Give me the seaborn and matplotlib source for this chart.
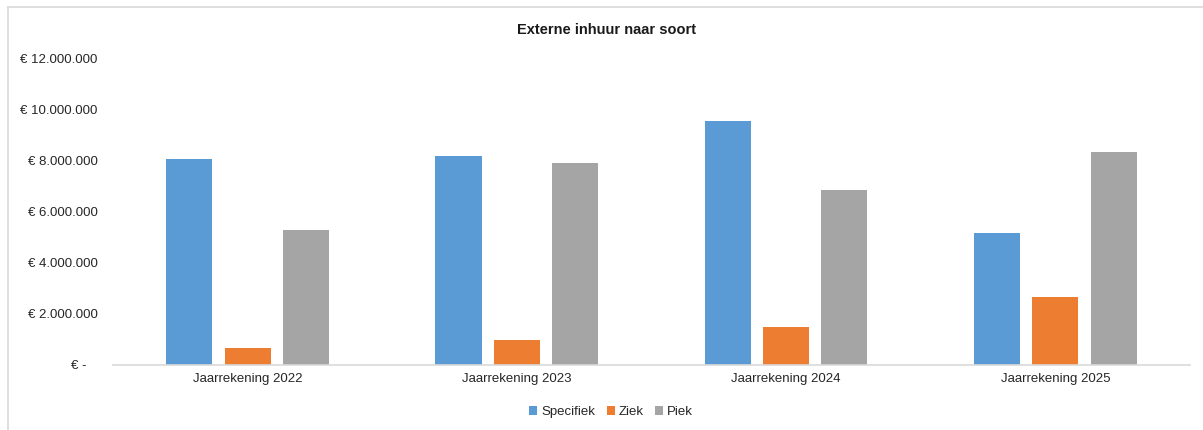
import pandas as pd
import numpy as np
import matplotlib
matplotlib.use('Agg')
import matplotlib.pyplot as plt
import matplotlib.ticker as mticker
from matplotlib.patches import Patch
from matplotlib.lines import Line2D
import seaborn as sns

# values (euro)
jaren = ['Jaarrekening 2022', 'Jaarrekening 2023', 'Jaarrekening 2024', 'Jaarrekening 2025']
soorten = ['Specifiek', 'Ziek', 'Piek']
specifiek = [8070000, 8200000, 9570000, 5170000]
ziek = [650000, 970000, 1500000, 2660000]
piek = [5290000, 7930000, 6870000, 8360000]
kleuren = ['#5B9BD5', '#ED7D31', '#A5A5A5']
yticks = [0, 2000000, 4000000, 6000000, 8000000, 10000000, 12000000]

data = pd.DataFrame({
    'Jaar': jaren * 3,
    'Soort': [s for s in soorten for _ in jaren],
    'Bedrag': specifiek + ziek + piek,
})

sns.set_style('white')
plt.rcParams['font.family'] = ['Liberation Sans', 'DejaVu Sans']

fig = plt.figure(figsize=(12.03, 4.30), dpi=100)
ax = fig.add_axes([0.0939, 0.1512, 0.8953, 0.7116])

sns.barplot(data=data, x='Jaar', y='Bedrag', hue='Soort', order=jaren, hue_order=soorten,
            palette=kleuren, saturation=1, width=0.65, gap=0.21, linewidth=0, ax=ax, legend=False)

ax.set_ylim(0, 12000000)
ax.set_xlim(-0.5, 3.5)
ax.set_yticks(yticks)


def euro(v, pos):
    if v == 0:
        return '€ -   '
    return '€ ' + f'{int(v):,}'.replace(',', '.')


ax.yaxis.set_major_formatter(mticker.FuncFormatter(euro))
ax.tick_params(axis='both', length=0, labelsize=9.5, colors='#262626')
ax.tick_params(axis='y', pad=11)
ax.tick_params(axis='x', pad=6)
ax.set_xlabel('')
ax.set_ylabel('')
for side in ['top', 'right', 'left']:
    ax.spines[side].set_visible(False)
ax.spines['bottom'].set_color('#D9D9D9')
ax.spines['bottom'].set_linewidth(1.2)

fig.text(0.5045, 1 - 30 / 430, 'Externe inhuur naar soort', ha='center', va='center',
         fontsize=10.5, fontweight='bold', color='#1a1a1a')

handles = [Patch(facecolor=c, edgecolor='none') for c in kleuren]
fig.legend(handles, soorten, loc='center', bbox_to_anchor=(0.508, 1 - 412 / 430), ncol=3,
           frameon=False, fontsize=9.5, handlelength=0.6, handleheight=0.6,
           handletextpad=0.3, columnspacing=0.9, labelcolor='#262626')

# light frame around the chart (left and top edges visible)
fig.add_artist(Line2D([8 / 1203, 8 / 1203], [0, 1 - 7 / 430], transform=fig.transFigure,
                      color='#D9D9D9', linewidth=1.2))
fig.add_artist(Line2D([8 / 1203, 1], [1 - 7 / 430, 1 - 7 / 430], transform=fig.transFigure,
                      color='#D9D9D9', linewidth=1.2))

fig.savefig('out.png', dpi=100, facecolor='white')
